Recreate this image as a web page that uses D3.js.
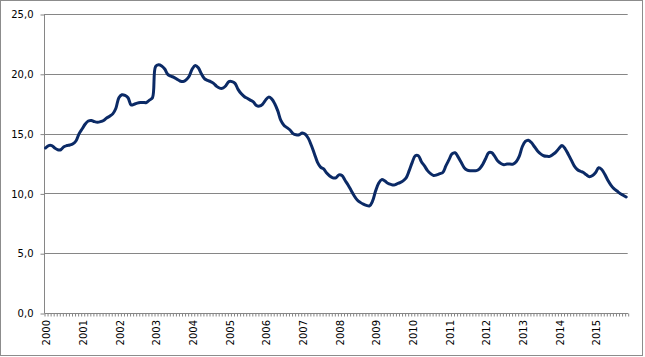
<!DOCTYPE html>
<html lang="en">
<head>
<meta charset="utf-8">
<title>Monthly series 2000-2015</title>
<script src="https://cdn.jsdelivr.net/npm/d3@7" type="text/javascript"></script>
<style>
  body { margin: 0; background: #fff; }
  svg { display: block; }
  .axis text { font-family: "DejaVu Sans", Verdana, sans-serif; font-size: 10px; fill: #000; }
</style>
</head>
<body>
<script type="text/javascript">
// monthly values, Jan 2000 .. Nov 2015
var years = ["2000","2001","2002","2003","2004","2005","2006","2007",
             "2008","2009","2010","2011","2012","2013","2014","2015"];
var values = [
  13.8, 14.0, 14.0, 13.8, 13.65, 13.65, 13.9, 14.0, 14.05, 14.15, 14.4, 15.0,      // 2000
  15.4, 15.8, 16.05, 16.1, 16.0, 15.95, 16.0, 16.1, 16.3, 16.45, 16.65, 17.1,      // 2001
  18.0, 18.25, 18.2, 18.0, 17.4, 17.45, 17.55, 17.6, 17.6, 17.6, 17.8, 18.0,       // 2002
  20.6, 20.75, 20.65, 20.4, 19.95, 19.8, 19.7, 19.55, 19.4, 19.35, 19.5, 19.8,     // 2003
  20.4, 20.7, 20.5, 20.0, 19.6, 19.45, 19.35, 19.2, 18.95, 18.8, 18.8, 19.0,       // 2004
  19.35, 19.35, 19.2, 18.7, 18.35, 18.1, 17.95, 17.8, 17.65, 17.35, 17.3, 17.45,   // 2005
  17.8, 18.05, 17.9, 17.5, 16.9, 16.1, 15.7, 15.5, 15.3, 15.0, 14.9, 14.9,         // 2006
  15.05, 14.95, 14.6, 14.0, 13.3, 12.6, 12.2, 12.05, 11.7, 11.45, 11.3, 11.3,      // 2007
  11.55, 11.5, 11.1, 10.7, 10.25, 9.8, 9.45, 9.25, 9.1, 9.0, 8.95, 9.35,           // 2008
  10.2, 10.85, 11.15, 11.05, 10.85, 10.75, 10.7, 10.8, 10.9, 11.05, 11.3, 11.9,    // 2009
  12.6, 13.15, 13.15, 12.65, 12.3, 11.9, 11.65, 11.5, 11.55, 11.65, 11.75, 12.3,   // 2010
  12.8, 13.3, 13.4, 13.05, 12.6, 12.15, 11.95, 11.9, 11.9, 11.9, 12.05, 12.4,      // 2011
  12.9, 13.4, 13.4, 13.1, 12.7, 12.5, 12.4, 12.45, 12.45, 12.45, 12.65, 13.1,      // 2012
  13.9, 14.35, 14.45, 14.25, 13.9, 13.55, 13.3, 13.15, 13.1, 13.1, 13.25, 13.45,   // 2013
  13.75, 14.0, 13.75, 13.3, 12.8, 12.3, 12.0, 11.85, 11.75, 11.55, 11.4, 11.5,     // 2014
  11.75, 12.15, 12.0, 11.6, 11.1, 10.7, 10.4, 10.2, 10.0, 9.85, 9.7                // 2015
];
var yTicks = [0, 5, 10, 15, 20, 25];

var W = 645, H = 357;
var plotL = 44, plotR = 627.7, plotT = 14, plotB = 313;

var svg = d3.select("body").append("svg").attr("width", W).attr("height", H);

// chart area border
svg.append("rect").attr("x", 0.5).attr("y", 0.5).attr("width", 642).attr("height", 355)
  .attr("fill", "#fff").attr("stroke", "#8c8c8c");

var idx = d3.range(values.length);
var x = d3.scaleBand().domain(idx).range([plotL, plotR]).padding(0);
var xb = d3.scaleLinear().domain([0, values.length]).range([plotL, plotR]); // category boundaries
var y = d3.scaleLinear().domain([0, 25]).range([plotB, plotT]);

// gridlines
svg.append("g").selectAll("line").data(yTicks.filter(function(d){ return d > 0; })).enter()
  .append("line")
  .attr("x1", plotL).attr("x2", plotR)
  .attr("y1", function(d){ return Math.round(y(d)) + 0.5; })
  .attr("y2", function(d){ return Math.round(y(d)) + 0.5; })
  .attr("stroke", "#868686").attr("stroke-width", 1);

// y axis
var yAxis = svg.append("g").attr("class", "axis")
  .attr("transform", "translate(" + (plotL + 0.5) + ",0.5)")
  .call(d3.axisLeft(y).tickValues(yTicks).tickSize(4).tickPadding(7)
    .tickFormat(function(d){ return d3.format(".1f")(d).replace(".", ","); }));
yAxis.selectAll("line, path").attr("stroke", "#868686");
yAxis.select("path").attr("d", "M0," + plotT + "V" + plotB);

// x axis: month boundary ticks
var xAxis = svg.append("g").attr("class", "axis")
  .attr("transform", "translate(0.5," + (plotB + 0.5) + ")")
  .call(d3.axisBottom(xb).tickValues(d3.range(0, values.length + 1)).tickSize(3).tickFormat(""));
xAxis.selectAll("line, path").attr("stroke", "#868686");
xAxis.select("path").attr("d", "M" + plotL + ",0H" + plotR);

// year labels
svg.append("g").attr("class", "axis").selectAll("text").data(years).enter()
  .append("text")
  .attr("transform", function(d, i){
    var cx = x(i * 12) + x.bandwidth() / 2 + 1.2;
    return "translate(" + cx + "," + (plotB + 7) + ") rotate(-90)";
  })
  .attr("text-anchor", "end").attr("dy", "0.35em")
  .text(function(d){ return d; });

// line
var line = d3.line()
  .x(function(d, i){ return x(i) + x.bandwidth() / 2; })
  .y(function(d){ return y(d); })
  .curve(d3.curveCatmullRom.alpha(0.5));

svg.append("path").datum(values)
  .attr("d", line)
  .attr("fill", "none")
  .attr("stroke", "#0b2a66")
  .attr("stroke-width", 3)
  .attr("stroke-linejoin", "round")
  .attr("stroke-linecap", "round");
</script>
</body>
</html>
